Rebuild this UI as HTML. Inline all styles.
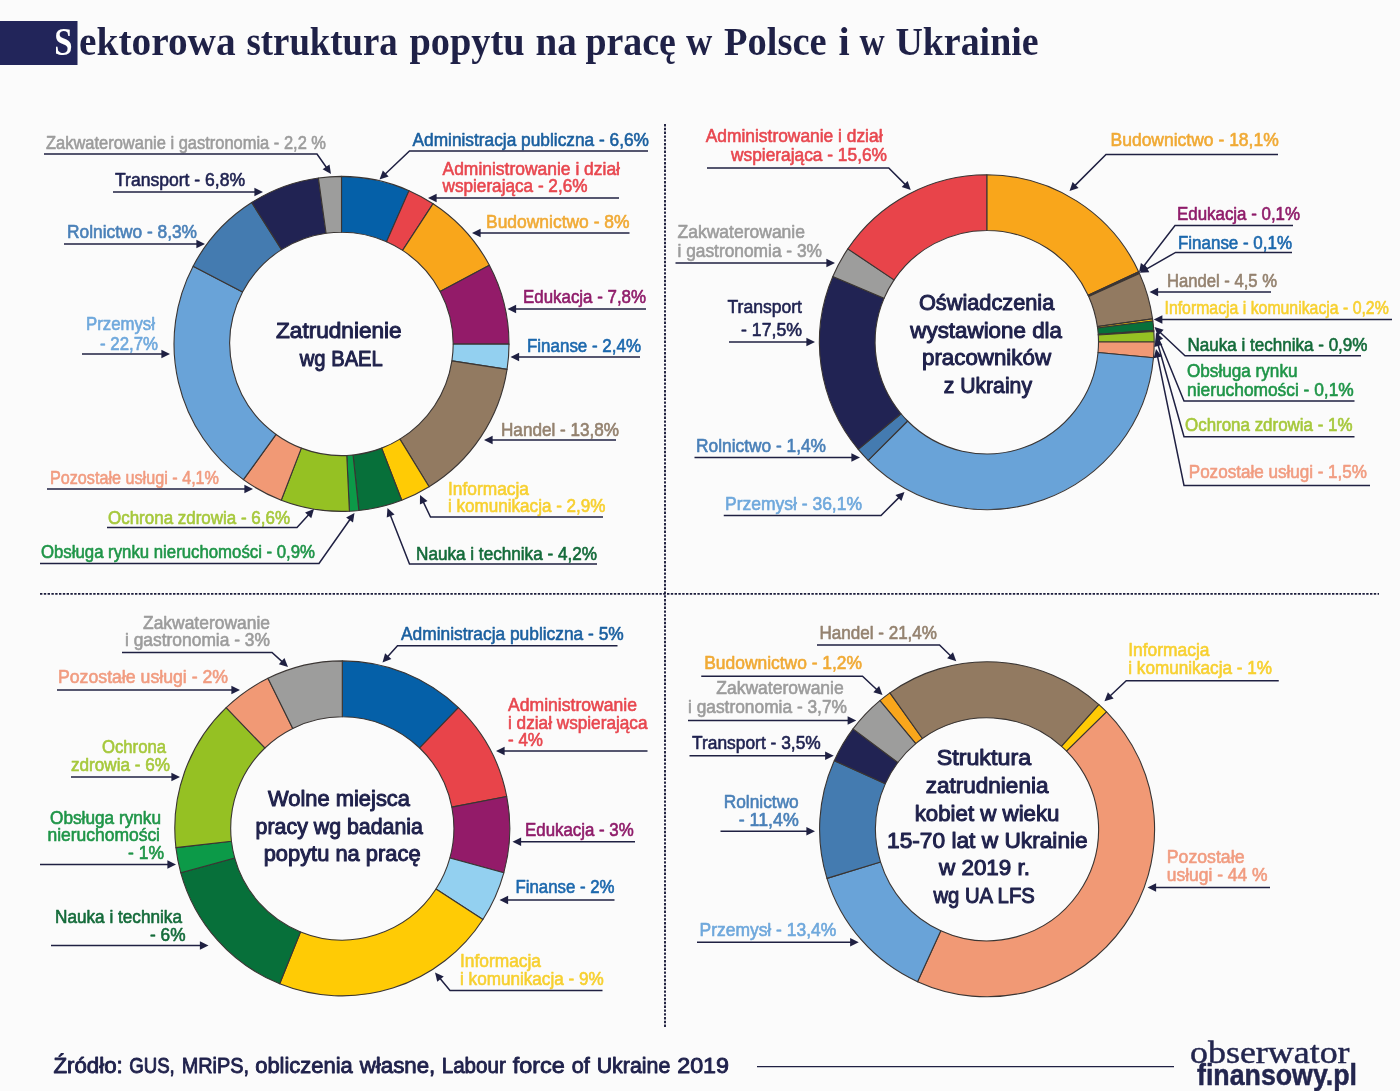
<!DOCTYPE html>
<html lang="pl"><head><meta charset="utf-8"><title>Sektorowa struktura popytu na pracę w Polsce i w Ukrainie</title>
<style>html,body{margin:0;padding:0;background:#fbfbfb}body{width:1400px;height:1091px;overflow:hidden}svg text{white-space:pre}</style></head>
<body>
<svg width="1400" height="1091" viewBox="0 0 1400 1091" style="display:block">
<rect width="1400" height="1091" fill="#fbfbfb"/>
<rect x="0" y="21" width="77.5" height="44" fill="#22255a"/>
<text x="54.30" y="54.80" fill="#ffffff" font-family="'Liberation Serif', serif" font-size="40.5" font-weight="bold" text-anchor="start" textLength="18.30" lengthAdjust="spacingAndGlyphs">S</text>
<text x="79.10" y="54.60" fill="#1f2147" font-family="'Liberation Serif', serif" font-size="40.5" font-weight="bold" text-anchor="start" textLength="156.50" lengthAdjust="spacingAndGlyphs">ektorowa</text>
<text x="246.50" y="54.60" fill="#1f2147" font-family="'Liberation Serif', serif" font-size="40.5" font-weight="bold" text-anchor="start" textLength="151.20" lengthAdjust="spacingAndGlyphs">struktura</text>
<text x="409.40" y="54.60" fill="#1f2147" font-family="'Liberation Serif', serif" font-size="40.5" font-weight="bold" text-anchor="start" textLength="115.20" lengthAdjust="spacingAndGlyphs">popytu</text>
<text x="535.40" y="54.60" fill="#1f2147" font-family="'Liberation Serif', serif" font-size="40.5" font-weight="bold" text-anchor="start" textLength="41.30" lengthAdjust="spacingAndGlyphs">na</text>
<text x="585.40" y="54.60" fill="#1f2147" font-family="'Liberation Serif', serif" font-size="40.5" font-weight="bold" text-anchor="start" textLength="90.50" lengthAdjust="spacingAndGlyphs">pracę</text>
<text x="686.10" y="54.60" fill="#1f2147" font-family="'Liberation Serif', serif" font-size="40.5" font-weight="bold" text-anchor="start" textLength="26.30" lengthAdjust="spacingAndGlyphs">w</text>
<text x="724.00" y="54.60" fill="#1f2147" font-family="'Liberation Serif', serif" font-size="40.5" font-weight="bold" text-anchor="start" textLength="102.60" lengthAdjust="spacingAndGlyphs">Polsce</text>
<text x="838.40" y="54.60" fill="#1f2147" font-family="'Liberation Serif', serif" font-size="40.5" font-weight="bold" text-anchor="start" textLength="11.20" lengthAdjust="spacingAndGlyphs">i</text>
<text x="859.40" y="54.60" fill="#1f2147" font-family="'Liberation Serif', serif" font-size="40.5" font-weight="bold" text-anchor="start" textLength="25.20" lengthAdjust="spacingAndGlyphs">w</text>
<text x="895.40" y="54.60" fill="#1f2147" font-family="'Liberation Serif', serif" font-size="40.5" font-weight="bold" text-anchor="start" textLength="143.20" lengthAdjust="spacingAndGlyphs">Ukrainie</text>
<line x1="40" y1="593.8" x2="1379" y2="593.8" stroke="#1c1d3c" stroke-width="1.7" stroke-dasharray="2.4,1.4"/>
<line x1="665" y1="124" x2="665" y2="1027" stroke="#1c1d3c" stroke-width="1.9" stroke-dasharray="2.4,1.4"/>
<path d="M341.50,176.40 A167.5,167.5 0 0 1 409.05,190.63 L386.55,241.69 A111.7,111.7 0 0 0 341.50,232.20 Z" fill="#0560a8" stroke="#3a3533" stroke-width="1.1" stroke-linejoin="round"/>
<path d="M409.05,190.63 A167.5,167.5 0 0 1 433.10,203.67 L402.59,250.38 A111.7,111.7 0 0 0 386.55,241.69 Z" fill="#e8444a" stroke="#3a3533" stroke-width="1.1" stroke-linejoin="round"/>
<path d="M433.10,203.67 A167.5,167.5 0 0 1 489.37,265.22 L440.11,291.43 A111.7,111.7 0 0 0 402.59,250.38 Z" fill="#f9a61b" stroke="#3a3533" stroke-width="1.1" stroke-linejoin="round"/>
<path d="M489.37,265.22 A167.5,167.5 0 0 1 509.00,344.16 L453.20,344.08 A111.7,111.7 0 0 0 440.11,291.43 Z" fill="#931b69" stroke="#3a3533" stroke-width="1.1" stroke-linejoin="round"/>
<path d="M509.00,344.16 A167.5,167.5 0 0 1 507.06,369.35 L451.90,360.87 A111.7,111.7 0 0 0 453.20,344.08 Z" fill="#93d0f0" stroke="#3a3533" stroke-width="1.1" stroke-linejoin="round"/>
<path d="M507.06,369.35 A167.5,167.5 0 0 1 429.10,486.67 L399.92,439.11 A111.7,111.7 0 0 0 451.90,360.87 Z" fill="#927a61" stroke="#3a3533" stroke-width="1.1" stroke-linejoin="round"/>
<path d="M429.10,486.67 A167.5,167.5 0 0 1 401.75,500.19 L381.68,448.12 A111.7,111.7 0 0 0 399.92,439.11 Z" fill="#ffcb05" stroke="#3a3533" stroke-width="1.1" stroke-linejoin="round"/>
<path d="M401.75,500.19 A167.5,167.5 0 0 1 358.85,510.50 L353.07,455.00 A111.7,111.7 0 0 0 381.68,448.12 Z" fill="#07703a" stroke="#3a3533" stroke-width="1.1" stroke-linejoin="round"/>
<path d="M358.85,510.50 A167.5,167.5 0 0 1 349.40,511.21 L346.77,455.48 A111.7,111.7 0 0 0 353.07,455.00 Z" fill="#0c9a48" stroke="#3a3533" stroke-width="1.1" stroke-linejoin="round"/>
<path d="M349.40,511.21 A167.5,167.5 0 0 1 281.25,500.19 L301.32,448.12 A111.7,111.7 0 0 0 346.77,455.48 Z" fill="#95c123" stroke="#3a3533" stroke-width="1.1" stroke-linejoin="round"/>
<path d="M281.25,500.19 A167.5,167.5 0 0 1 243.39,479.66 L276.07,434.43 A111.7,111.7 0 0 0 301.32,448.12 Z" fill="#f19975" stroke="#3a3533" stroke-width="1.1" stroke-linejoin="round"/>
<path d="M243.39,479.66 A167.5,167.5 0 0 1 193.14,266.15 L242.56,292.05 A111.7,111.7 0 0 0 276.07,434.43 Z" fill="#69a3d8" stroke="#3a3533" stroke-width="1.1" stroke-linejoin="round"/>
<path d="M193.14,266.15 A167.5,167.5 0 0 1 251.67,202.53 L281.59,249.62 A111.7,111.7 0 0 0 242.56,292.05 Z" fill="#447bb0" stroke="#3a3533" stroke-width="1.1" stroke-linejoin="round"/>
<path d="M251.67,202.53 A167.5,167.5 0 0 1 318.40,178.00 L326.09,233.27 A111.7,111.7 0 0 0 281.59,249.62 Z" fill="#212353" stroke="#3a3533" stroke-width="1.1" stroke-linejoin="round"/>
<path d="M318.40,178.00 A167.5,167.5 0 0 1 341.50,176.40 L341.50,232.20 A111.7,111.7 0 0 0 326.09,233.27 Z" fill="#9d9d9c" stroke="#3a3533" stroke-width="1.1" stroke-linejoin="round"/>
<text x="276.00" y="338.30" fill="#20224c" font-family="'Liberation Sans', sans-serif" font-size="22.2" font-weight="normal" text-anchor="start" textLength="125.70" lengthAdjust="spacingAndGlyphs" stroke="#20224c" stroke-width="1.0" stroke-linejoin="round">Zatrudnienie</text>
<text x="299.80" y="366.00" fill="#20224c" font-family="'Liberation Sans', sans-serif" font-size="22.2" font-weight="normal" text-anchor="start" textLength="83.00" lengthAdjust="spacingAndGlyphs" stroke="#20224c" stroke-width="1.0" stroke-linejoin="round">wg BAEL</text>
<text x="46.00" y="148.50" fill="#9c9c9c" font-family="'Liberation Sans', sans-serif" font-size="17.9" font-weight="normal" text-anchor="start" textLength="280.00" lengthAdjust="spacingAndGlyphs" stroke="#9c9c9c" stroke-width="0.6" stroke-linejoin="round">Zakwaterowanie i gastronomia - 2,2 %</text>
<polyline points="44.00,154.00 317.00,154.00 326.64,167.77" fill="none" stroke="#1f2042" stroke-width="1.5" stroke-linejoin="miter"/>
<polygon points="331.00,174.00 322.63,169.36 329.51,164.55" fill="#1f2042"/>
<text x="115.00" y="185.50" fill="#1f2250" font-family="'Liberation Sans', sans-serif" font-size="17.9" font-weight="normal" text-anchor="start" textLength="130.00" lengthAdjust="spacingAndGlyphs" stroke="#1f2250" stroke-width="0.6" stroke-linejoin="round">Transport - 6,8%</text>
<polyline points="113.00,192.00 255.40,192.00" fill="none" stroke="#1f2042" stroke-width="1.5" stroke-linejoin="miter"/>
<polygon points="263.00,192.00 254.40,196.20 254.40,187.80" fill="#1f2042"/>
<text x="67.00" y="238.00" fill="#4a80b8" font-family="'Liberation Sans', sans-serif" font-size="17.9" font-weight="normal" text-anchor="start" textLength="130.00" lengthAdjust="spacingAndGlyphs" stroke="#4a80b8" stroke-width="0.6" stroke-linejoin="round">Rolnictwo - 8,3%</text>
<polyline points="64.00,244.00 197.40,244.00" fill="none" stroke="#1f2042" stroke-width="1.5" stroke-linejoin="miter"/>
<polygon points="205.00,244.00 196.40,248.20 196.40,239.80" fill="#1f2042"/>
<text x="86.00" y="330.00" fill="#6fa8dc" font-family="'Liberation Sans', sans-serif" font-size="17.9" font-weight="normal" text-anchor="start" textLength="69.00" lengthAdjust="spacingAndGlyphs" stroke="#6fa8dc" stroke-width="0.6" stroke-linejoin="round">Przemysł</text>
<text x="100.00" y="349.50" fill="#6fa8dc" font-family="'Liberation Sans', sans-serif" font-size="17.9" font-weight="normal" text-anchor="start" textLength="58.00" lengthAdjust="spacingAndGlyphs" stroke="#6fa8dc" stroke-width="0.6" stroke-linejoin="round">- 22,7%</text>
<polyline points="82.00,354.00 162.40,354.00" fill="none" stroke="#1f2042" stroke-width="1.5" stroke-linejoin="miter"/>
<polygon points="170.00,354.00 161.40,358.20 161.40,349.80" fill="#1f2042"/>
<text x="50.00" y="483.50" fill="#f19c80" font-family="'Liberation Sans', sans-serif" font-size="17.9" font-weight="normal" text-anchor="start" textLength="169.00" lengthAdjust="spacingAndGlyphs" stroke="#f19c80" stroke-width="0.6" stroke-linejoin="round">Pozostałe usługi - 4,1%</text>
<polyline points="47.00,489.00 245.40,489.00" fill="none" stroke="#1f2042" stroke-width="1.5" stroke-linejoin="miter"/>
<polygon points="253.00,489.00 244.40,493.20 244.40,484.80" fill="#1f2042"/>
<text x="108.00" y="523.50" fill="#a6c83c" font-family="'Liberation Sans', sans-serif" font-size="17.9" font-weight="normal" text-anchor="start" textLength="182.00" lengthAdjust="spacingAndGlyphs" stroke="#a6c83c" stroke-width="0.6" stroke-linejoin="round">Ochrona zdrowia - 6,6%</text>
<polyline points="107.00,527.50 297.00,527.50 308.86,514.60" fill="none" stroke="#1f2042" stroke-width="1.5" stroke-linejoin="miter"/>
<polygon points="314.00,509.00 311.27,518.17 305.09,512.49" fill="#1f2042"/>
<text x="41.00" y="557.50" fill="#1f9548" font-family="'Liberation Sans', sans-serif" font-size="17.9" font-weight="normal" text-anchor="start" textLength="274.00" lengthAdjust="spacingAndGlyphs" stroke="#1f9548" stroke-width="0.6" stroke-linejoin="round">Obsługa rynku nieruchomości - 0,9%</text>
<polyline points="40.00,563.50 319.00,563.50 350.13,519.22" fill="none" stroke="#1f2042" stroke-width="1.5" stroke-linejoin="miter"/>
<polygon points="354.50,513.00 352.99,522.45 346.12,517.62" fill="#1f2042"/>
<text x="412.50" y="145.50" fill="#1a5f9f" font-family="'Liberation Sans', sans-serif" font-size="17.9" font-weight="normal" text-anchor="start" textLength="236.50" lengthAdjust="spacingAndGlyphs" stroke="#1a5f9f" stroke-width="0.6" stroke-linejoin="round">Administracja publiczna - 6,6%</text>
<polyline points="648.00,151.00 409.50,151.00 385.01,174.27" fill="none" stroke="#1f2042" stroke-width="1.5" stroke-linejoin="miter"/>
<polygon points="379.50,179.50 382.84,170.53 388.63,176.62" fill="#1f2042"/>
<text x="442.50" y="174.50" fill="#e8474f" font-family="'Liberation Sans', sans-serif" font-size="17.9" font-weight="normal" text-anchor="start" textLength="177.50" lengthAdjust="spacingAndGlyphs" stroke="#e8474f" stroke-width="0.6" stroke-linejoin="round">Administrowanie i dział</text>
<text x="442.50" y="191.50" fill="#e8474f" font-family="'Liberation Sans', sans-serif" font-size="17.9" font-weight="normal" text-anchor="start" textLength="145.00" lengthAdjust="spacingAndGlyphs" stroke="#e8474f" stroke-width="0.6" stroke-linejoin="round">wspierająca - 2,6%</text>
<polyline points="619.00,198.00 435.60,198.00" fill="none" stroke="#1f2042" stroke-width="1.5" stroke-linejoin="miter"/>
<polygon points="428.00,198.00 436.60,193.80 436.60,202.20" fill="#1f2042"/>
<text x="486.00" y="227.50" fill="#f0aa35" font-family="'Liberation Sans', sans-serif" font-size="17.9" font-weight="normal" text-anchor="start" textLength="143.50" lengthAdjust="spacingAndGlyphs" stroke="#f0aa35" stroke-width="0.6" stroke-linejoin="round">Budownictwo - 8%</text>
<polyline points="629.50,233.00 479.60,233.00" fill="none" stroke="#1f2042" stroke-width="1.5" stroke-linejoin="miter"/>
<polygon points="472.00,233.00 480.60,228.80 480.60,237.20" fill="#1f2042"/>
<text x="523.00" y="302.50" fill="#8f1c6a" font-family="'Liberation Sans', sans-serif" font-size="17.9" font-weight="normal" text-anchor="start" textLength="123.00" lengthAdjust="spacingAndGlyphs" stroke="#8f1c6a" stroke-width="0.6" stroke-linejoin="round">Edukacja - 7,8%</text>
<polyline points="646.00,309.00 515.10,309.00" fill="none" stroke="#1f2042" stroke-width="1.5" stroke-linejoin="miter"/>
<polygon points="507.50,309.00 516.10,304.80 516.10,313.20" fill="#1f2042"/>
<text x="527.00" y="351.50" fill="#1c68ad" font-family="'Liberation Sans', sans-serif" font-size="17.9" font-weight="normal" text-anchor="start" textLength="114.00" lengthAdjust="spacingAndGlyphs" stroke="#1c68ad" stroke-width="0.6" stroke-linejoin="round">Finanse - 2,4%</text>
<polyline points="640.00,357.00 518.10,357.00" fill="none" stroke="#1f2042" stroke-width="1.5" stroke-linejoin="miter"/>
<polygon points="510.50,357.00 519.10,352.80 519.10,361.20" fill="#1f2042"/>
<text x="501.00" y="435.50" fill="#94826f" font-family="'Liberation Sans', sans-serif" font-size="17.9" font-weight="normal" text-anchor="start" textLength="118.00" lengthAdjust="spacingAndGlyphs" stroke="#94826f" stroke-width="0.6" stroke-linejoin="round">Handel - 13,8%</text>
<polyline points="616.00,440.00 491.60,440.00" fill="none" stroke="#1f2042" stroke-width="1.5" stroke-linejoin="miter"/>
<polygon points="484.00,440.00 492.60,435.80 492.60,444.20" fill="#1f2042"/>
<text x="448.00" y="494.50" fill="#f7d030" font-family="'Liberation Sans', sans-serif" font-size="17.9" font-weight="normal" text-anchor="start" textLength="81.00" lengthAdjust="spacingAndGlyphs" stroke="#f7d030" stroke-width="0.6" stroke-linejoin="round">Informacja</text>
<text x="448.00" y="511.50" fill="#f7d030" font-family="'Liberation Sans', sans-serif" font-size="17.9" font-weight="normal" text-anchor="start" textLength="157.50" lengthAdjust="spacingAndGlyphs" stroke="#f7d030" stroke-width="0.6" stroke-linejoin="round">i komunikacja - 2,9%</text>
<polyline points="603.00,517.00 430.50,517.00 423.27,501.86" fill="none" stroke="#1f2042" stroke-width="1.5" stroke-linejoin="miter"/>
<polygon points="420.00,495.00 427.49,500.95 419.91,504.57" fill="#1f2042"/>
<text x="416.00" y="559.50" fill="#146b3a" font-family="'Liberation Sans', sans-serif" font-size="17.9" font-weight="normal" text-anchor="start" textLength="181.00" lengthAdjust="spacingAndGlyphs" stroke="#146b3a" stroke-width="0.6" stroke-linejoin="round">Nauka i technika - 4,2%</text>
<polyline points="597.00,564.00 409.50,564.00 390.28,515.07" fill="none" stroke="#1f2042" stroke-width="1.5" stroke-linejoin="miter"/>
<polygon points="387.50,508.00 394.55,514.47 386.74,517.54" fill="#1f2042"/>
<path d="M986.80,174.80 A167.4,167.4 0 0 1 1138.63,271.71 L1088.11,295.16 A111.7,111.7 0 0 0 986.80,230.50 Z" fill="#f9a61b" stroke="#3a3533" stroke-width="1.1" stroke-linejoin="round"/>
<path d="M1138.63,271.71 A167.4,167.4 0 0 1 1139.07,272.66 L1088.41,295.80 A111.7,111.7 0 0 0 1088.11,295.16 Z" fill="#931b69" stroke="#3a3533" stroke-width="1.1" stroke-linejoin="round"/>
<path d="M1139.07,272.66 A167.4,167.4 0 0 1 1139.51,273.62 L1088.70,296.44 A111.7,111.7 0 0 0 1088.41,295.80 Z" fill="#93d0f0" stroke="#3a3533" stroke-width="1.1" stroke-linejoin="round"/>
<path d="M1139.51,273.62 A167.4,167.4 0 0 1 1152.57,318.90 L1097.41,326.65 A111.7,111.7 0 0 0 1088.70,296.44 Z" fill="#927a61" stroke="#3a3533" stroke-width="1.1" stroke-linejoin="round"/>
<path d="M1152.57,318.90 A167.4,167.4 0 0 1 1152.85,320.98 L1097.60,328.04 A111.7,111.7 0 0 0 1097.41,326.65 Z" fill="#ffcb05" stroke="#3a3533" stroke-width="1.1" stroke-linejoin="round"/>
<path d="M1152.85,320.98 A167.4,167.4 0 0 1 1153.78,330.39 L1098.22,334.32 A111.7,111.7 0 0 0 1097.60,328.04 Z" fill="#07703a" stroke="#3a3533" stroke-width="1.1" stroke-linejoin="round"/>
<path d="M1153.78,330.39 A167.4,167.4 0 0 1 1153.85,331.44 L1098.27,335.02 A111.7,111.7 0 0 0 1098.22,334.32 Z" fill="#0c9a48" stroke="#3a3533" stroke-width="1.1" stroke-linejoin="round"/>
<path d="M1153.85,331.44 A167.4,167.4 0 0 1 1154.20,341.94 L1098.50,342.02 A111.7,111.7 0 0 0 1098.27,335.02 Z" fill="#95c123" stroke="#3a3533" stroke-width="1.1" stroke-linejoin="round"/>
<path d="M1154.20,341.94 A167.4,167.4 0 0 1 1153.48,357.68 L1098.02,352.53 A111.7,111.7 0 0 0 1098.50,342.02 Z" fill="#f19975" stroke="#3a3533" stroke-width="1.1" stroke-linejoin="round"/>
<path d="M1153.48,357.68 A167.4,167.4 0 0 1 868.15,460.29 L907.63,421.00 A111.7,111.7 0 0 0 1098.02,352.53 Z" fill="#69a3d8" stroke="#3a3533" stroke-width="1.1" stroke-linejoin="round"/>
<path d="M868.15,460.29 A167.4,167.4 0 0 1 858.25,449.42 L901.02,413.75 A111.7,111.7 0 0 0 907.63,421.00 Z" fill="#447bb0" stroke="#3a3533" stroke-width="1.1" stroke-linejoin="round"/>
<path d="M858.25,449.42 A167.4,167.4 0 0 1 832.83,276.50 L884.06,298.36 A111.7,111.7 0 0 0 901.02,413.75 Z" fill="#212353" stroke="#3a3533" stroke-width="1.1" stroke-linejoin="round"/>
<path d="M832.83,276.50 A167.4,167.4 0 0 1 847.85,248.84 L894.08,279.91 A111.7,111.7 0 0 0 884.06,298.36 Z" fill="#9d9d9c" stroke="#3a3533" stroke-width="1.1" stroke-linejoin="round"/>
<path d="M847.85,248.84 A167.4,167.4 0 0 1 986.80,174.80 L986.80,230.50 A111.7,111.7 0 0 0 894.08,279.91 Z" fill="#e8444a" stroke="#3a3533" stroke-width="1.1" stroke-linejoin="round"/>
<text x="918.90" y="309.90" fill="#20224c" font-family="'Liberation Sans', sans-serif" font-size="22.2" font-weight="normal" text-anchor="start" textLength="135.40" lengthAdjust="spacingAndGlyphs" stroke="#20224c" stroke-width="1.0" stroke-linejoin="round">Oświadczenia</text>
<text x="910.30" y="337.50" fill="#20224c" font-family="'Liberation Sans', sans-serif" font-size="22.2" font-weight="normal" text-anchor="start" textLength="151.70" lengthAdjust="spacingAndGlyphs" stroke="#20224c" stroke-width="1.0" stroke-linejoin="round">wystawione dla</text>
<text x="922.00" y="365.20" fill="#20224c" font-family="'Liberation Sans', sans-serif" font-size="22.2" font-weight="normal" text-anchor="start" textLength="129.00" lengthAdjust="spacingAndGlyphs" stroke="#20224c" stroke-width="1.0" stroke-linejoin="round">pracowników</text>
<text x="943.70" y="392.70" fill="#20224c" font-family="'Liberation Sans', sans-serif" font-size="22.2" font-weight="normal" text-anchor="start" textLength="88.30" lengthAdjust="spacingAndGlyphs" stroke="#20224c" stroke-width="1.0" stroke-linejoin="round">z Ukrainy</text>
<text x="705.75" y="142.25" fill="#e8474f" font-family="'Liberation Sans', sans-serif" font-size="17.9" font-weight="normal" text-anchor="start" textLength="176.75" lengthAdjust="spacingAndGlyphs" stroke="#e8474f" stroke-width="0.6" stroke-linejoin="round">Administrowanie i dział</text>
<text x="731.00" y="161.25" fill="#e8474f" font-family="'Liberation Sans', sans-serif" font-size="17.9" font-weight="normal" text-anchor="start" textLength="156.00" lengthAdjust="spacingAndGlyphs" stroke="#e8474f" stroke-width="0.6" stroke-linejoin="round">wspierająca - 15,6%</text>
<polyline points="707.00,168.00 888.75,168.00 905.38,184.63" fill="none" stroke="#1f2042" stroke-width="1.5" stroke-linejoin="miter"/>
<polygon points="910.75,190.00 901.70,186.89 907.64,180.95" fill="#1f2042"/>
<text x="677.50" y="238.00" fill="#9c9c9c" font-family="'Liberation Sans', sans-serif" font-size="17.9" font-weight="normal" text-anchor="start" textLength="127.50" lengthAdjust="spacingAndGlyphs" stroke="#9c9c9c" stroke-width="0.6" stroke-linejoin="round">Zakwaterowanie</text>
<text x="677.50" y="256.50" fill="#9c9c9c" font-family="'Liberation Sans', sans-serif" font-size="17.9" font-weight="normal" text-anchor="start" textLength="144.50" lengthAdjust="spacingAndGlyphs" stroke="#9c9c9c" stroke-width="0.6" stroke-linejoin="round">i gastronomia - 3%</text>
<polyline points="675.50,263.00 827.40,263.00" fill="none" stroke="#1f2042" stroke-width="1.5" stroke-linejoin="miter"/>
<polygon points="835.00,263.00 826.40,267.20 826.40,258.80" fill="#1f2042"/>
<text x="727.50" y="313.00" fill="#1f2250" font-family="'Liberation Sans', sans-serif" font-size="17.9" font-weight="normal" text-anchor="start" textLength="74.50" lengthAdjust="spacingAndGlyphs" stroke="#1f2250" stroke-width="0.6" stroke-linejoin="round">Transport</text>
<text x="741.00" y="335.50" fill="#1f2250" font-family="'Liberation Sans', sans-serif" font-size="17.9" font-weight="normal" text-anchor="start" textLength="61.00" lengthAdjust="spacingAndGlyphs" stroke="#1f2250" stroke-width="0.6" stroke-linejoin="round">- 17,5%</text>
<polyline points="729.00,342.00 807.40,342.00" fill="none" stroke="#1f2042" stroke-width="1.5" stroke-linejoin="miter"/>
<polygon points="815.00,342.00 806.40,346.20 806.40,337.80" fill="#1f2042"/>
<text x="696.00" y="451.50" fill="#4a80b8" font-family="'Liberation Sans', sans-serif" font-size="17.9" font-weight="normal" text-anchor="start" textLength="130.00" lengthAdjust="spacingAndGlyphs" stroke="#4a80b8" stroke-width="0.6" stroke-linejoin="round">Rolnictwo - 1,4%</text>
<polyline points="694.50,457.50 852.40,457.50" fill="none" stroke="#1f2042" stroke-width="1.5" stroke-linejoin="miter"/>
<polygon points="860.00,457.50 851.40,461.70 851.40,453.30" fill="#1f2042"/>
<text x="725.00" y="509.50" fill="#6fa8dc" font-family="'Liberation Sans', sans-serif" font-size="17.9" font-weight="normal" text-anchor="start" textLength="137.00" lengthAdjust="spacingAndGlyphs" stroke="#6fa8dc" stroke-width="0.6" stroke-linejoin="round">Przemysł - 36,1%</text>
<polyline points="723.75,515.50 881.00,515.50 899.13,497.37" fill="none" stroke="#1f2042" stroke-width="1.5" stroke-linejoin="miter"/>
<polygon points="904.50,492.00 901.39,501.05 895.45,495.11" fill="#1f2042"/>
<text x="1110.50" y="146.00" fill="#f0aa35" font-family="'Liberation Sans', sans-serif" font-size="17.9" font-weight="normal" text-anchor="start" textLength="168.25" lengthAdjust="spacingAndGlyphs" stroke="#f0aa35" stroke-width="0.6" stroke-linejoin="round">Budownictwo - 18,1%</text>
<polyline points="1278.00,154.50 1106.00,154.50 1074.87,185.63" fill="none" stroke="#1f2042" stroke-width="1.5" stroke-linejoin="miter"/>
<polygon points="1069.50,191.00 1072.61,181.95 1078.55,187.89" fill="#1f2042"/>
<text x="1177.00" y="219.50" fill="#8f1c6a" font-family="'Liberation Sans', sans-serif" font-size="17.9" font-weight="normal" text-anchor="start" textLength="123.00" lengthAdjust="spacingAndGlyphs" stroke="#8f1c6a" stroke-width="0.6" stroke-linejoin="round">Edukacja - 0,1%</text>
<polyline points="1293.00,225.50 1175.00,225.50 1143.63,266.28" fill="none" stroke="#1f2042" stroke-width="1.5" stroke-linejoin="miter"/>
<polygon points="1139.00,272.30 1140.91,262.92 1147.57,268.04" fill="#1f2042"/>
<text x="1178.00" y="249.25" fill="#1c68ad" font-family="'Liberation Sans', sans-serif" font-size="17.9" font-weight="normal" text-anchor="start" textLength="114.00" lengthAdjust="spacingAndGlyphs" stroke="#1c68ad" stroke-width="0.6" stroke-linejoin="round">Finanse - 0,1%</text>
<polyline points="1292.00,252.40 1175.60,252.40 1146.40,269.04" fill="none" stroke="#1f2042" stroke-width="1.5" stroke-linejoin="miter"/>
<polygon points="1139.80,272.80 1145.19,264.89 1149.35,272.19" fill="#1f2042"/>
<text x="1167.00" y="286.50" fill="#94826f" font-family="'Liberation Sans', sans-serif" font-size="17.9" font-weight="normal" text-anchor="start" textLength="110.00" lengthAdjust="spacingAndGlyphs" stroke="#94826f" stroke-width="0.6" stroke-linejoin="round">Handel - 4,5 %</text>
<polyline points="1271.00,292.00 1157.10,292.00" fill="none" stroke="#1f2042" stroke-width="1.5" stroke-linejoin="miter"/>
<polygon points="1149.50,292.00 1158.10,287.80 1158.10,296.20" fill="#1f2042"/>
<text x="1164.50" y="314.25" fill="#f7d030" font-family="'Liberation Sans', sans-serif" font-size="17.9" font-weight="normal" text-anchor="start" textLength="224.25" lengthAdjust="spacingAndGlyphs" stroke="#f7d030" stroke-width="0.6" stroke-linejoin="round">Informacja i komunikacja - 0,2%</text>
<polyline points="1392.00,319.50 1161.35,319.50" fill="none" stroke="#1f2042" stroke-width="1.5" stroke-linejoin="miter"/>
<polygon points="1153.75,319.50 1162.35,315.30 1162.35,323.70" fill="#1f2042"/>
<text x="1187.50" y="350.50" fill="#146b3a" font-family="'Liberation Sans', sans-serif" font-size="17.9" font-weight="normal" text-anchor="start" textLength="180.00" lengthAdjust="spacingAndGlyphs" stroke="#146b3a" stroke-width="0.6" stroke-linejoin="round">Nauka i technika - 0,9%</text>
<polyline points="1361.00,355.75 1185.00,355.75 1160.03,332.21" fill="none" stroke="#1f2042" stroke-width="1.5" stroke-linejoin="miter"/>
<polygon points="1154.50,327.00 1163.64,329.84 1157.88,335.96" fill="#1f2042"/>
<text x="1187.00" y="376.50" fill="#1f9548" font-family="'Liberation Sans', sans-serif" font-size="17.9" font-weight="normal" text-anchor="start" textLength="110.50" lengthAdjust="spacingAndGlyphs" stroke="#1f9548" stroke-width="0.6" stroke-linejoin="round">Obsługa rynku</text>
<text x="1187.00" y="395.50" fill="#1f9548" font-family="'Liberation Sans', sans-serif" font-size="17.9" font-weight="normal" text-anchor="start" textLength="166.75" lengthAdjust="spacingAndGlyphs" stroke="#1f9548" stroke-width="0.6" stroke-linejoin="round">nieruchomości - 0,1%</text>
<polyline points="1354.50,401.00 1184.00,401.00 1158.88,339.53" fill="none" stroke="#1f2042" stroke-width="1.5" stroke-linejoin="miter"/>
<polygon points="1156.00,332.50 1163.14,338.87 1155.37,342.05" fill="#1f2042"/>
<text x="1185.00" y="431.00" fill="#a6c83c" font-family="'Liberation Sans', sans-serif" font-size="17.9" font-weight="normal" text-anchor="start" textLength="167.50" lengthAdjust="spacingAndGlyphs" stroke="#a6c83c" stroke-width="0.6" stroke-linejoin="round">Ochrona zdrowia - 1%</text>
<polyline points="1354.50,436.75 1184.00,436.75 1158.06,344.81" fill="none" stroke="#1f2042" stroke-width="1.5" stroke-linejoin="miter"/>
<polygon points="1156.00,337.50 1162.38,344.64 1154.29,346.92" fill="#1f2042"/>
<text x="1188.75" y="478.00" fill="#f19c80" font-family="'Liberation Sans', sans-serif" font-size="17.9" font-weight="normal" text-anchor="start" textLength="178.25" lengthAdjust="spacingAndGlyphs" stroke="#f19c80" stroke-width="0.6" stroke-linejoin="round">Pozostałe usługi - 1,5%</text>
<polyline points="1370.00,485.50 1184.00,485.50 1157.53,356.44" fill="none" stroke="#1f2042" stroke-width="1.5" stroke-linejoin="miter"/>
<polygon points="1156.00,349.00 1161.84,356.58 1153.61,358.27" fill="#1f2042"/>
<path d="M342.30,660.90 A167.5,167.5 0 0 1 458.45,707.71 L419.69,747.99 A111.6,111.6 0 0 0 342.30,716.80 Z" fill="#0560a8" stroke="#3a3533" stroke-width="1.1" stroke-linejoin="round"/>
<path d="M458.45,707.71 A167.5,167.5 0 0 1 506.74,796.51 L451.86,807.15 A111.6,111.6 0 0 0 419.69,747.99 Z" fill="#e8444a" stroke="#3a3533" stroke-width="1.1" stroke-linejoin="round"/>
<path d="M506.74,796.51 A167.5,167.5 0 0 1 503.81,872.78 L449.91,857.97 A111.6,111.6 0 0 0 451.86,807.15 Z" fill="#931b69" stroke="#3a3533" stroke-width="1.1" stroke-linejoin="round"/>
<path d="M503.81,872.78 A167.5,167.5 0 0 1 482.89,919.45 L435.97,889.06 A111.6,111.6 0 0 0 449.91,857.97 Z" fill="#93d0f0" stroke="#3a3533" stroke-width="1.1" stroke-linejoin="round"/>
<path d="M482.89,919.45 A167.5,167.5 0 0 1 279.69,983.76 L300.58,931.91 A111.6,111.6 0 0 0 435.97,889.06 Z" fill="#ffcb05" stroke="#3a3533" stroke-width="1.1" stroke-linejoin="round"/>
<path d="M279.69,983.76 A167.5,167.5 0 0 1 180.79,872.78 L234.69,857.97 A111.6,111.6 0 0 0 300.58,931.91 Z" fill="#07703a" stroke="#3a3533" stroke-width="1.1" stroke-linejoin="round"/>
<path d="M180.79,872.78 A167.5,167.5 0 0 1 175.91,847.61 L231.44,841.20 A111.6,111.6 0 0 0 234.69,857.97 Z" fill="#0c9a48" stroke="#3a3533" stroke-width="1.1" stroke-linejoin="round"/>
<path d="M175.91,847.61 A167.5,167.5 0 0 1 226.15,707.71 L264.91,747.99 A111.6,111.6 0 0 0 231.44,841.20 Z" fill="#95c123" stroke="#3a3533" stroke-width="1.1" stroke-linejoin="round"/>
<path d="M226.15,707.71 A167.5,167.5 0 0 1 267.98,678.29 L292.78,728.39 A111.6,111.6 0 0 0 264.91,747.99 Z" fill="#f19975" stroke="#3a3533" stroke-width="1.1" stroke-linejoin="round"/>
<path d="M267.98,678.29 A167.5,167.5 0 0 1 342.30,660.90 L342.30,716.80 A111.6,111.6 0 0 0 292.78,728.39 Z" fill="#9d9d9c" stroke="#3a3533" stroke-width="1.1" stroke-linejoin="round"/>
<text x="268.00" y="806.00" fill="#20224c" font-family="'Liberation Sans', sans-serif" font-size="22.2" font-weight="normal" text-anchor="start" textLength="142.00" lengthAdjust="spacingAndGlyphs" stroke="#20224c" stroke-width="1.0" stroke-linejoin="round">Wolne miejsca</text>
<text x="255.60" y="833.50" fill="#20224c" font-family="'Liberation Sans', sans-serif" font-size="22.2" font-weight="normal" text-anchor="start" textLength="167.40" lengthAdjust="spacingAndGlyphs" stroke="#20224c" stroke-width="1.0" stroke-linejoin="round">pracy wg badania</text>
<text x="263.70" y="861.00" fill="#20224c" font-family="'Liberation Sans', sans-serif" font-size="22.2" font-weight="normal" text-anchor="start" textLength="156.90" lengthAdjust="spacingAndGlyphs" stroke="#20224c" stroke-width="1.0" stroke-linejoin="round">popytu na pracę</text>
<text x="143.00" y="628.50" fill="#9c9c9c" font-family="'Liberation Sans', sans-serif" font-size="17.9" font-weight="normal" text-anchor="start" textLength="127.00" lengthAdjust="spacingAndGlyphs" stroke="#9c9c9c" stroke-width="0.6" stroke-linejoin="round">Zakwaterowanie</text>
<text x="125.00" y="645.50" fill="#9c9c9c" font-family="'Liberation Sans', sans-serif" font-size="17.9" font-weight="normal" text-anchor="start" textLength="145.00" lengthAdjust="spacingAndGlyphs" stroke="#9c9c9c" stroke-width="0.6" stroke-linejoin="round">i gastronomia - 3%</text>
<polyline points="122.00,652.50 272.00,652.50 282.37,661.90" fill="none" stroke="#1f2042" stroke-width="1.5" stroke-linejoin="miter"/>
<polygon points="288.00,667.00 278.81,664.34 284.45,658.11" fill="#1f2042"/>
<text x="58.00" y="683.00" fill="#f19c80" font-family="'Liberation Sans', sans-serif" font-size="17.9" font-weight="normal" text-anchor="start" textLength="170.00" lengthAdjust="spacingAndGlyphs" stroke="#f19c80" stroke-width="0.6" stroke-linejoin="round">Pozostałe usługi - 2%</text>
<polyline points="57.00,690.00 232.40,690.00" fill="none" stroke="#1f2042" stroke-width="1.5" stroke-linejoin="miter"/>
<polygon points="240.00,690.00 231.40,694.20 231.40,685.80" fill="#1f2042"/>
<text x="102.00" y="752.50" fill="#a6c83c" font-family="'Liberation Sans', sans-serif" font-size="17.9" font-weight="normal" text-anchor="start" textLength="64.00" lengthAdjust="spacingAndGlyphs" stroke="#a6c83c" stroke-width="0.6" stroke-linejoin="round">Ochrona</text>
<text x="71.00" y="770.50" fill="#a6c83c" font-family="'Liberation Sans', sans-serif" font-size="17.9" font-weight="normal" text-anchor="start" textLength="99.00" lengthAdjust="spacingAndGlyphs" stroke="#a6c83c" stroke-width="0.6" stroke-linejoin="round">zdrowia - 6%</text>
<polyline points="71.00,777.00 172.40,777.00" fill="none" stroke="#1f2042" stroke-width="1.5" stroke-linejoin="miter"/>
<polygon points="180.00,777.00 171.40,781.20 171.40,772.80" fill="#1f2042"/>
<text x="50.00" y="823.50" fill="#1f9548" font-family="'Liberation Sans', sans-serif" font-size="17.9" font-weight="normal" text-anchor="start" textLength="111.00" lengthAdjust="spacingAndGlyphs" stroke="#1f9548" stroke-width="0.6" stroke-linejoin="round">Obsługa rynku</text>
<text x="47.50" y="840.50" fill="#1f9548" font-family="'Liberation Sans', sans-serif" font-size="17.9" font-weight="normal" text-anchor="start" textLength="112.50" lengthAdjust="spacingAndGlyphs" stroke="#1f9548" stroke-width="0.6" stroke-linejoin="round">nieruchomości</text>
<text x="128.00" y="858.50" fill="#1f9548" font-family="'Liberation Sans', sans-serif" font-size="17.9" font-weight="normal" text-anchor="start" textLength="36.00" lengthAdjust="spacingAndGlyphs" stroke="#1f9548" stroke-width="0.6" stroke-linejoin="round">- 1%</text>
<polyline points="40.00,864.50 168.40,864.50" fill="none" stroke="#1f2042" stroke-width="1.5" stroke-linejoin="miter"/>
<polygon points="176.00,864.50 167.40,868.70 167.40,860.30" fill="#1f2042"/>
<text x="55.00" y="922.50" fill="#146b3a" font-family="'Liberation Sans', sans-serif" font-size="17.9" font-weight="normal" text-anchor="start" textLength="127.00" lengthAdjust="spacingAndGlyphs" stroke="#146b3a" stroke-width="0.6" stroke-linejoin="round">Nauka i technika</text>
<text x="150.00" y="940.50" fill="#146b3a" font-family="'Liberation Sans', sans-serif" font-size="17.9" font-weight="normal" text-anchor="start" textLength="35.50" lengthAdjust="spacingAndGlyphs" stroke="#146b3a" stroke-width="0.6" stroke-linejoin="round">- 6%</text>
<polyline points="51.00,945.50 200.90,945.50" fill="none" stroke="#1f2042" stroke-width="1.5" stroke-linejoin="miter"/>
<polygon points="208.50,945.50 199.90,949.70 199.90,941.30" fill="#1f2042"/>
<text x="401.00" y="639.50" fill="#1a5f9f" font-family="'Liberation Sans', sans-serif" font-size="17.9" font-weight="normal" text-anchor="start" textLength="222.75" lengthAdjust="spacingAndGlyphs" stroke="#1a5f9f" stroke-width="0.6" stroke-linejoin="round">Administracja publiczna - 5%</text>
<polyline points="617.50,645.75 397.50,645.75 387.57,656.84" fill="none" stroke="#1f2042" stroke-width="1.5" stroke-linejoin="miter"/>
<polygon points="382.50,662.50 385.11,653.29 391.37,658.90" fill="#1f2042"/>
<text x="508.00" y="711.25" fill="#e8474f" font-family="'Liberation Sans', sans-serif" font-size="17.9" font-weight="normal" text-anchor="start" textLength="129.00" lengthAdjust="spacingAndGlyphs" stroke="#e8474f" stroke-width="0.6" stroke-linejoin="round">Administrowanie</text>
<text x="508.00" y="728.50" fill="#e8474f" font-family="'Liberation Sans', sans-serif" font-size="17.9" font-weight="normal" text-anchor="start" textLength="139.50" lengthAdjust="spacingAndGlyphs" stroke="#e8474f" stroke-width="0.6" stroke-linejoin="round">i dział wspierająca</text>
<text x="508.00" y="745.50" fill="#e8474f" font-family="'Liberation Sans', sans-serif" font-size="17.9" font-weight="normal" text-anchor="start" textLength="35.00" lengthAdjust="spacingAndGlyphs" stroke="#e8474f" stroke-width="0.6" stroke-linejoin="round">- 4%</text>
<polyline points="647.50,751.00 503.60,751.00" fill="none" stroke="#1f2042" stroke-width="1.5" stroke-linejoin="miter"/>
<polygon points="496.00,751.00 504.60,746.80 504.60,755.20" fill="#1f2042"/>
<text x="525.00" y="835.50" fill="#8f1c6a" font-family="'Liberation Sans', sans-serif" font-size="17.9" font-weight="normal" text-anchor="start" textLength="108.75" lengthAdjust="spacingAndGlyphs" stroke="#8f1c6a" stroke-width="0.6" stroke-linejoin="round">Edukacja - 3%</text>
<polyline points="635.00,841.75 520.10,841.75" fill="none" stroke="#1f2042" stroke-width="1.5" stroke-linejoin="miter"/>
<polygon points="512.50,841.75 521.10,837.55 521.10,845.95" fill="#1f2042"/>
<text x="515.50" y="893.00" fill="#1c68ad" font-family="'Liberation Sans', sans-serif" font-size="17.9" font-weight="normal" text-anchor="start" textLength="99.00" lengthAdjust="spacingAndGlyphs" stroke="#1c68ad" stroke-width="0.6" stroke-linejoin="round">Finanse - 2%</text>
<polyline points="614.50,900.00 507.10,900.00" fill="none" stroke="#1f2042" stroke-width="1.5" stroke-linejoin="miter"/>
<polygon points="499.50,900.00 508.10,895.80 508.10,904.20" fill="#1f2042"/>
<text x="460.00" y="967.25" fill="#f7d030" font-family="'Liberation Sans', sans-serif" font-size="17.9" font-weight="normal" text-anchor="start" textLength="81.00" lengthAdjust="spacingAndGlyphs" stroke="#f7d030" stroke-width="0.6" stroke-linejoin="round">Informacja</text>
<text x="460.00" y="984.75" fill="#f7d030" font-family="'Liberation Sans', sans-serif" font-size="17.9" font-weight="normal" text-anchor="start" textLength="143.75" lengthAdjust="spacingAndGlyphs" stroke="#f7d030" stroke-width="0.6" stroke-linejoin="round">i komunikacja - 9%</text>
<polyline points="602.50,990.50 450.00,990.50 439.87,978.34" fill="none" stroke="#1f2042" stroke-width="1.5" stroke-linejoin="miter"/>
<polygon points="435.00,972.50 443.73,976.42 437.28,981.80" fill="#1f2042"/>
<path d="M879.88,700.61 A167.5,167.5 0 0 1 889.92,692.87 L922.41,738.48 A111.5,111.5 0 0 0 915.73,743.64 Z" fill="#f9a61b" stroke="#3a3533" stroke-width="1.1" stroke-linejoin="round"/>
<path d="M889.92,692.87 A167.5,167.5 0 0 1 1098.93,704.60 L1061.54,746.29 A111.5,111.5 0 0 0 922.41,738.48 Z" fill="#927a61" stroke="#3a3533" stroke-width="1.1" stroke-linejoin="round"/>
<path d="M1098.93,704.60 A167.5,167.5 0 0 1 1106.57,711.90 L1066.63,751.15 A111.5,111.5 0 0 0 1061.54,746.29 Z" fill="#ffcb05" stroke="#3a3533" stroke-width="1.1" stroke-linejoin="round"/>
<path d="M1106.57,711.90 A167.5,167.5 0 0 1 917.54,981.67 L940.80,930.73 A111.5,111.5 0 0 0 1066.63,751.15 Z" fill="#f19975" stroke="#3a3533" stroke-width="1.1" stroke-linejoin="round"/>
<path d="M917.54,981.67 A167.5,167.5 0 0 1 826.94,878.35 L880.49,861.95 A111.5,111.5 0 0 0 940.80,930.73 Z" fill="#69a3d8" stroke="#3a3533" stroke-width="1.1" stroke-linejoin="round"/>
<path d="M826.94,878.35 A167.5,167.5 0 0 1 834.29,760.70 L885.38,783.64 A111.5,111.5 0 0 0 880.49,861.95 Z" fill="#447bb0" stroke="#3a3533" stroke-width="1.1" stroke-linejoin="round"/>
<path d="M834.29,760.70 A167.5,167.5 0 0 1 853.02,728.90 L897.85,762.47 A111.5,111.5 0 0 0 885.38,783.64 Z" fill="#212353" stroke="#3a3533" stroke-width="1.1" stroke-linejoin="round"/>
<path d="M853.02,728.90 A167.5,167.5 0 0 1 879.88,700.61 L915.73,743.64 A111.5,111.5 0 0 0 897.85,762.47 Z" fill="#9d9d9c" stroke="#3a3533" stroke-width="1.1" stroke-linejoin="round"/>
<text x="936.70" y="765.00" fill="#20224c" font-family="'Liberation Sans', sans-serif" font-size="22.2" font-weight="normal" text-anchor="start" textLength="94.40" lengthAdjust="spacingAndGlyphs" stroke="#20224c" stroke-width="1.0" stroke-linejoin="round">Struktura</text>
<text x="925.70" y="792.80" fill="#20224c" font-family="'Liberation Sans', sans-serif" font-size="22.2" font-weight="normal" text-anchor="start" textLength="122.80" lengthAdjust="spacingAndGlyphs" stroke="#20224c" stroke-width="1.0" stroke-linejoin="round">zatrudnienia</text>
<text x="914.70" y="820.70" fill="#20224c" font-family="'Liberation Sans', sans-serif" font-size="22.2" font-weight="normal" text-anchor="start" textLength="144.80" lengthAdjust="spacingAndGlyphs" stroke="#20224c" stroke-width="1.0" stroke-linejoin="round">kobiet w wieku</text>
<text x="887.00" y="848.30" fill="#20224c" font-family="'Liberation Sans', sans-serif" font-size="22.2" font-weight="normal" text-anchor="start" textLength="200.70" lengthAdjust="spacingAndGlyphs" stroke="#20224c" stroke-width="1.0" stroke-linejoin="round">15-70 lat w Ukrainie</text>
<text x="939.00" y="875.30" fill="#20224c" font-family="'Liberation Sans', sans-serif" font-size="22.2" font-weight="normal" text-anchor="start" textLength="91.00" lengthAdjust="spacingAndGlyphs" stroke="#20224c" stroke-width="1.0" stroke-linejoin="round">w 2019 r.</text>
<text x="933.40" y="903.00" fill="#20224c" font-family="'Liberation Sans', sans-serif" font-size="22.2" font-weight="normal" text-anchor="start" textLength="101.40" lengthAdjust="spacingAndGlyphs" stroke="#20224c" stroke-width="1.0" stroke-linejoin="round">wg UA LFS</text>
<text x="819.50" y="639.25" fill="#94826f" font-family="'Liberation Sans', sans-serif" font-size="17.9" font-weight="normal" text-anchor="start" textLength="117.50" lengthAdjust="spacingAndGlyphs" stroke="#94826f" stroke-width="0.6" stroke-linejoin="round">Handel - 21,4%</text>
<polyline points="817.00,645.00 939.50,645.00 950.80,655.96" fill="none" stroke="#1f2042" stroke-width="1.5" stroke-linejoin="miter"/>
<polygon points="956.25,661.25 947.15,658.28 953.00,652.25" fill="#1f2042"/>
<text x="704.25" y="669.25" fill="#f0aa35" font-family="'Liberation Sans', sans-serif" font-size="17.9" font-weight="normal" text-anchor="start" textLength="157.75" lengthAdjust="spacingAndGlyphs" stroke="#f0aa35" stroke-width="0.6" stroke-linejoin="round">Budownictwo - 1,2%</text>
<polyline points="701.25,676.25 862.50,676.25 876.96,689.80" fill="none" stroke="#1f2042" stroke-width="1.5" stroke-linejoin="miter"/>
<polygon points="882.50,695.00 873.35,692.18 879.10,686.05" fill="#1f2042"/>
<text x="716.25" y="694.25" fill="#9c9c9c" font-family="'Liberation Sans', sans-serif" font-size="17.9" font-weight="normal" text-anchor="start" textLength="127.50" lengthAdjust="spacingAndGlyphs" stroke="#9c9c9c" stroke-width="0.6" stroke-linejoin="round">Zakwaterowanie</text>
<text x="688.00" y="713.00" fill="#9c9c9c" font-family="'Liberation Sans', sans-serif" font-size="17.9" font-weight="normal" text-anchor="start" textLength="159.00" lengthAdjust="spacingAndGlyphs" stroke="#9c9c9c" stroke-width="0.6" stroke-linejoin="round">i gastronomia - 3,7%</text>
<polyline points="688.00,720.50 848.65,720.50" fill="none" stroke="#1f2042" stroke-width="1.5" stroke-linejoin="miter"/>
<polygon points="856.25,720.50 847.65,724.70 847.65,716.30" fill="#1f2042"/>
<text x="692.00" y="748.50" fill="#1f2250" font-family="'Liberation Sans', sans-serif" font-size="17.9" font-weight="normal" text-anchor="start" textLength="128.75" lengthAdjust="spacingAndGlyphs" stroke="#1f2250" stroke-width="0.6" stroke-linejoin="round">Transport - 3,5%</text>
<polyline points="689.50,755.75 826.15,755.75" fill="none" stroke="#1f2042" stroke-width="1.5" stroke-linejoin="miter"/>
<polygon points="833.75,755.75 825.15,759.95 825.15,751.55" fill="#1f2042"/>
<text x="723.75" y="808.00" fill="#4a80b8" font-family="'Liberation Sans', sans-serif" font-size="17.9" font-weight="normal" text-anchor="start" textLength="75.00" lengthAdjust="spacingAndGlyphs" stroke="#4a80b8" stroke-width="0.6" stroke-linejoin="round">Rolnictwo</text>
<text x="738.75" y="826.00" fill="#4a80b8" font-family="'Liberation Sans', sans-serif" font-size="17.9" font-weight="normal" text-anchor="start" textLength="60.00" lengthAdjust="spacingAndGlyphs" stroke="#4a80b8" stroke-width="0.6" stroke-linejoin="round">- 11,4%</text>
<polyline points="720.50,831.25 807.40,831.25" fill="none" stroke="#1f2042" stroke-width="1.5" stroke-linejoin="miter"/>
<polygon points="815.00,831.25 806.40,835.45 806.40,827.05" fill="#1f2042"/>
<text x="699.50" y="936.00" fill="#6fa8dc" font-family="'Liberation Sans', sans-serif" font-size="17.9" font-weight="normal" text-anchor="start" textLength="136.75" lengthAdjust="spacingAndGlyphs" stroke="#6fa8dc" stroke-width="0.6" stroke-linejoin="round">Przemysł - 13,4%</text>
<polyline points="697.00,942.25 851.15,942.25" fill="none" stroke="#1f2042" stroke-width="1.5" stroke-linejoin="miter"/>
<polygon points="858.75,942.25 850.15,946.45 850.15,938.05" fill="#1f2042"/>
<text x="1128.25" y="655.50" fill="#f7d030" font-family="'Liberation Sans', sans-serif" font-size="17.9" font-weight="normal" text-anchor="start" textLength="81.25" lengthAdjust="spacingAndGlyphs" stroke="#f7d030" stroke-width="0.6" stroke-linejoin="round">Informacja</text>
<text x="1128.25" y="674.25" fill="#f7d030" font-family="'Liberation Sans', sans-serif" font-size="17.9" font-weight="normal" text-anchor="start" textLength="143.75" lengthAdjust="spacingAndGlyphs" stroke="#f7d030" stroke-width="0.6" stroke-linejoin="round">i komunikacja - 1%</text>
<polyline points="1278.75,680.75 1126.25,680.75 1110.03,696.04" fill="none" stroke="#1f2042" stroke-width="1.5" stroke-linejoin="miter"/>
<polygon points="1104.50,701.25 1107.88,692.30 1113.64,698.41" fill="#1f2042"/>
<text x="1166.75" y="862.50" fill="#f19c80" font-family="'Liberation Sans', sans-serif" font-size="17.9" font-weight="normal" text-anchor="start" textLength="77.75" lengthAdjust="spacingAndGlyphs" stroke="#f19c80" stroke-width="0.6" stroke-linejoin="round">Pozostałe</text>
<text x="1166.75" y="881.25" fill="#f19c80" font-family="'Liberation Sans', sans-serif" font-size="17.9" font-weight="normal" text-anchor="start" textLength="100.75" lengthAdjust="spacingAndGlyphs" stroke="#f19c80" stroke-width="0.6" stroke-linejoin="round">usługi - 44 %</text>
<polyline points="1270.00,887.50 1155.10,887.50" fill="none" stroke="#1f2042" stroke-width="1.5" stroke-linejoin="miter"/>
<polygon points="1147.50,887.50 1156.10,883.30 1156.10,891.70" fill="#1f2042"/>
<text x="53.45" y="1073.40" fill="#20224c" font-family="'Liberation Sans', sans-serif" font-size="22.4" font-weight="normal" text-anchor="start" textLength="69.35" lengthAdjust="spacingAndGlyphs" stroke="#20224c" stroke-width="0.9" stroke-linejoin="round">Źródło:</text>
<text x="129.20" y="1073.40" fill="#20224c" font-family="'Liberation Sans', sans-serif" font-size="22.4" font-weight="normal" text-anchor="start" textLength="45.60" lengthAdjust="spacingAndGlyphs" stroke="#20224c" stroke-width="0.9" stroke-linejoin="round">GUS,</text>
<text x="181.70" y="1073.40" fill="#20224c" font-family="'Liberation Sans', sans-serif" font-size="22.4" font-weight="normal" text-anchor="start" textLength="67.35" lengthAdjust="spacingAndGlyphs" stroke="#20224c" stroke-width="0.9" stroke-linejoin="round">MRiPS,</text>
<text x="255.20" y="1073.40" fill="#20224c" font-family="'Liberation Sans', sans-serif" font-size="22.4" font-weight="normal" text-anchor="start" textLength="97.60" lengthAdjust="spacingAndGlyphs" stroke="#20224c" stroke-width="0.9" stroke-linejoin="round">obliczenia</text>
<text x="359.70" y="1073.40" fill="#20224c" font-family="'Liberation Sans', sans-serif" font-size="22.4" font-weight="normal" text-anchor="start" textLength="75.60" lengthAdjust="spacingAndGlyphs" stroke="#20224c" stroke-width="0.9" stroke-linejoin="round">własne,</text>
<text x="441.70" y="1073.40" fill="#20224c" font-family="'Liberation Sans', sans-serif" font-size="22.4" font-weight="normal" text-anchor="start" textLength="64.10" lengthAdjust="spacingAndGlyphs" stroke="#20224c" stroke-width="0.9" stroke-linejoin="round">Labour</text>
<text x="512.70" y="1073.40" fill="#20224c" font-family="'Liberation Sans', sans-serif" font-size="22.4" font-weight="normal" text-anchor="start" textLength="52.10" lengthAdjust="spacingAndGlyphs" stroke="#20224c" stroke-width="0.9" stroke-linejoin="round">force</text>
<text x="571.70" y="1073.40" fill="#20224c" font-family="'Liberation Sans', sans-serif" font-size="22.4" font-weight="normal" text-anchor="start" textLength="18.10" lengthAdjust="spacingAndGlyphs" stroke="#20224c" stroke-width="0.9" stroke-linejoin="round">of</text>
<text x="596.70" y="1073.40" fill="#20224c" font-family="'Liberation Sans', sans-serif" font-size="22.4" font-weight="normal" text-anchor="start" textLength="73.60" lengthAdjust="spacingAndGlyphs" stroke="#20224c" stroke-width="0.9" stroke-linejoin="round">Ukraine</text>
<text x="677.20" y="1073.40" fill="#20224c" font-family="'Liberation Sans', sans-serif" font-size="22.4" font-weight="normal" text-anchor="start" textLength="51.85" lengthAdjust="spacingAndGlyphs" stroke="#20224c" stroke-width="0.9" stroke-linejoin="round">2019</text>
<line x1="757" y1="1066.6" x2="1174" y2="1066.6" stroke="#1f2042" stroke-width="1.4"/>
<text x="1190.00" y="1062.80" fill="#23264f" font-family="'Liberation Serif', serif" font-size="32.5" font-weight="normal" text-anchor="start" textLength="159.60" lengthAdjust="spacingAndGlyphs" stroke="#23264f" stroke-width="0.45" stroke-linejoin="round">obserwator</text>
<text x="1197.00" y="1084.60" fill="#23264f" font-family="'Liberation Sans', sans-serif" font-size="30" font-weight="bold" text-anchor="start" textLength="160.00" lengthAdjust="spacingAndGlyphs" stroke="#23264f" stroke-width="0.5" stroke-linejoin="round">finansowy.pl</text>
</svg>
</body></html>
